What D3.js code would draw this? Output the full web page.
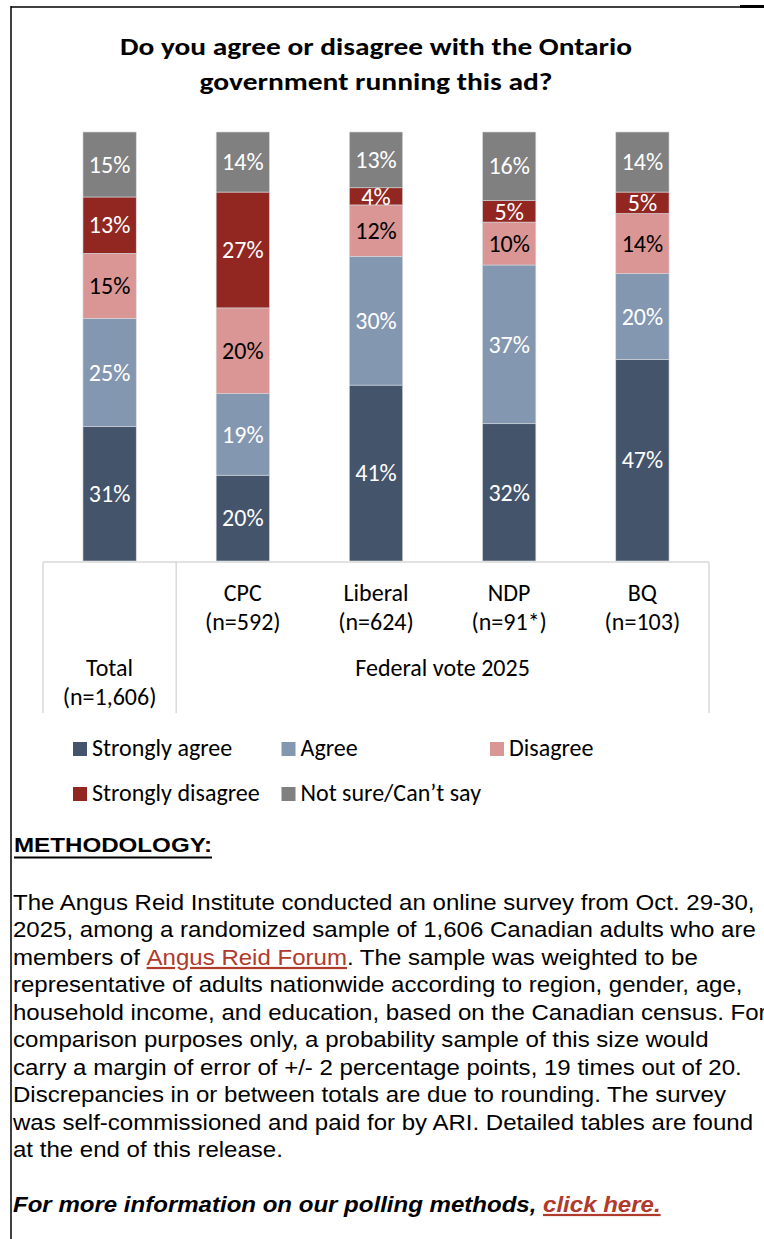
<!DOCTYPE html>
<html>
<head>
<meta charset="utf-8">
<script src="https://cdn.jsdelivr.net/npm/d3@7"></script>
<style>
  html, body { margin: 0; padding: 0; background: #fff; }
  svg { display: block; }
</style>
</head>
<body>
<svg id="chart" width="764" height="1239"></svg>
<script>
// Survey question and breakdown groups
const titleLines = ["Do you agree or disagree with the Ontario", "government running this ad?"];
const categories = ["Total", "CPC", "Liberal", "NDP", "BQ"];
const sampleSizes = ["(n=1,606)", "(n=592)", "(n=624)", "(n=91*)", "(n=103)"];
const groupLabel = "Federal vote 2025";

// Response series (percent), bottom to top
const seriesNames = ["Strongly agree", "Agree", "Disagree", "Strongly disagree", "Not sure/Can’t say"];
const stronglyAgree     = [31, 20, 41, 32, 47];
const agree             = [25, 19, 30, 37, 20];
const disagree          = [15, 20, 12, 10, 14];
const stronglyDisagree  = [13, 27,  4,  5,  5];
const notSure           = [15, 14, 13, 16, 14];

const seriesColors = ["#44546A", "#8497B0", "#DA9694", "#922620", "#808080"];
const labelColors  = ["#ffffff", "#ffffff", "#000000", "#ffffff", "#ffffff"];

// Methodology note
const methodHeading = "METHODOLOGY:";
const methodLines = [
  [{t: "The Angus Reid Institute conducted an online survey from Oct. 29-30,"}],
  [{t: "2025, among a randomized sample of 1,606 Canadian adults who are"}],
  [{t: "members of "}, {t: "Angus Reid Forum", link: true}, {t: ". The sample was weighted to be"}],
  [{t: "representative of adults nationwide according to region, gender, age,"}],
  [{t: "household income, and education, based on the Canadian census. For"}],
  [{t: "comparison purposes only, a probability sample of this size would"}],
  [{t: "carry a margin of error of +/- 2 percentage points, 19 times out of 20."}],
  [{t: "Discrepancies in or between totals are due to rounding. The survey"}],
  [{t: "was self-commissioned and paid for by ARI. Detailed tables are found"}],
  [{t: "at the end of this release."}]
];
const moreInfo = [{t: "For more information on our polling methods, "}, {t: "click here.", link: true}];

// ---------------------------------------------------------------
const svg = d3.select("#chart");
const chartFont = "Carlito, 'Open Sans', sans-serif";
const noteFont = "'Liberation Sans', Arial, sans-serif";
const linkColor = "#B03A2B";

// Page frame
svg.append("line").attr("x1", 11).attr("x2", 740).attr("y1", 7).attr("y2", 7)
  .attr("stroke", "#000").attr("stroke-width", 1.5);
svg.append("line").attr("x1", 740).attr("x2", 764).attr("y1", 6.5).attr("y2", 6.5)
  .attr("stroke", "#000").attr("stroke-width", 3);
svg.append("line").attr("x1", 11).attr("x2", 11).attr("y1", 6).attr("y2", 1239)
  .attr("stroke", "#000").attr("stroke-width", 1.5);

// Title, each line fitted to the title column
const titleWidths = [512, 353];
svg.append("g").selectAll("text").data(titleLines).join("text")
  .attr("x", 376).attr("y", (d, i) => 54.5 + i * 35.5)
  .attr("text-anchor", "middle")
  .attr("textLength", (d, i) => titleWidths[i]).attr("lengthAdjust", "spacingAndGlyphs")
  .style("font-family", chartFont).style("font-weight", 700).style("font-size", "25px")
  .attr("fill", "#000")
  .text(d => d);

// Stacked data
const rows = categories.map((c, i) => ({
  category: c,
  [seriesNames[0]]: stronglyAgree[i],
  [seriesNames[1]]: agree[i],
  [seriesNames[2]]: disagree[i],
  [seriesNames[3]]: stronglyDisagree[i],
  [seriesNames[4]]: notSure[i]
}));
const stacked = d3.stack().keys(seriesNames).offset(d3.stackOffsetExpand)(rows);

const x = d3.scaleBand().domain(categories).range([43, 709]).paddingInner(0.6).paddingOuter(0.3);
const y = d3.scaleLinear().domain([0, 1]).range([561, 132]);
const color = d3.scaleOrdinal().domain(seriesNames).range(seriesColors);
const labelColor = d3.scaleOrdinal().domain(seriesNames).range(labelColors);

const layers = svg.append("g").selectAll("g").data(stacked).join("g")
  .attr("fill", d => color(d.key));

layers.selectAll("rect").data(d => d.map(p => ({p, key: d.key}))).join("rect")
  .attr("x", d => x(d.p.data.category))
  .attr("width", x.bandwidth())
  .attr("y", d => y(d.p[1]))
  .attr("height", d => y(d.p[0]) - y(d.p[1]))
  .attr("stroke", "#d6d9de").attr("stroke-width", 0.6);

layers.selectAll("text").data(d => d.map(p => ({p, key: d.key}))).join("text")
  .attr("x", d => x(d.p.data.category) + x.bandwidth() / 2)
  .attr("y", d => (y(d.p[0]) + y(d.p[1])) / 2)
  .attr("dy", "0.34em")
  .attr("text-anchor", "middle")
  .attr("fill", d => labelColor(d.key))
  .style("font-family", chartFont).style("font-size", "24px")
  .text(d => d.p.data[d.key] + "%");

// Category axis drawn as a grouping table
const frame = svg.append("g").attr("stroke", "#d9d9d9").attr("stroke-width", 1.5).attr("fill", "none");
const left = x.range()[0], right = x.range()[1];
const divider = left + x.step();
frame.append("line").attr("x1", left).attr("x2", right).attr("y1", 562).attr("y2", 562);
[left, divider, right].forEach(px => {
  frame.append("line").attr("x1", px).attr("x2", px).attr("y1", 562).attr("y2", 713);
});

const axisText = svg.append("g")
  .style("font-family", chartFont).style("font-size", "24px").attr("fill", "#000")
  .attr("text-anchor", "middle");
categories.forEach((c, i) => {
  const cx = x(c) + x.bandwidth() / 2;
  const base = i === 0 ? 676 : 601;
  axisText.append("text").attr("x", cx).attr("y", base).text(c);
  axisText.append("text").attr("x", cx).attr("y", base + 28.5).text(sampleSizes[i]);
});
axisText.append("text").attr("x", (divider + right) / 2).attr("y", 676).text(groupLabel);

// Legend
const legend = svg.append("g").style("font-family", chartFont).style("font-size", "24px");
seriesNames.forEach((s, i) => {
  const col = i % 3, row = Math.floor(i / 3);
  const lx = 73 + col * 208.5, ly = 756 + row * 45;
  legend.append("rect").attr("x", lx).attr("y", ly - 14).attr("width", 14).attr("height", 14)
    .attr("fill", color(s));
  legend.append("text").attr("x", lx + 19).attr("y", ly).attr("fill", "#000").text(s);
});

// Methodology note
const note = svg.append("g");
note.append("text")
  .attr("x", 14).attr("y", 852)
  .attr("textLength", 198).attr("lengthAdjust", "spacingAndGlyphs")
  .style("font-family", noteFont).style("font-weight", 700).style("font-size", "20px")
  .attr("fill", "#000").text(methodHeading);
note.append("line").attr("x1", 14).attr("x2", 212).attr("y1", 857.5).attr("y2", 857.5)
  .attr("stroke", "#000").attr("stroke-width", 2);

const body = note.append("g").attr("class", "body");
methodLines.forEach((parts, i) => {
  const t = body.append("text").attr("x", 0).attr("y", 910 + i * 27.5)
    .style("font-family", noteFont).style("font-size", "22px").attr("fill", "#000");
  parts.forEach(p => {
    const ts = t.append("tspan").text(p.t);
    if (p.link) ts.attr("fill", linkColor).style("text-decoration", "underline");
  });
});
const info = body.append("text").attr("x", 0).attr("y", 1212)
  .style("font-family", noteFont).style("font-size", "22px")
  .style("font-weight", 700).style("font-style", "italic").attr("fill", "#000");
moreInfo.forEach(p => {
  const ts = info.append("tspan").text(p.t);
  if (p.link) ts.attr("fill", linkColor).style("text-decoration", "underline");
});

// Fit the note width so the first line spans the text column
const firstLen = body.select("text").node().getComputedTextLength();
const sx = (755 - 13) / firstLen;
body.attr("transform", `translate(13,0) scale(${sx},1)`);
</script>
</body>
</html>
